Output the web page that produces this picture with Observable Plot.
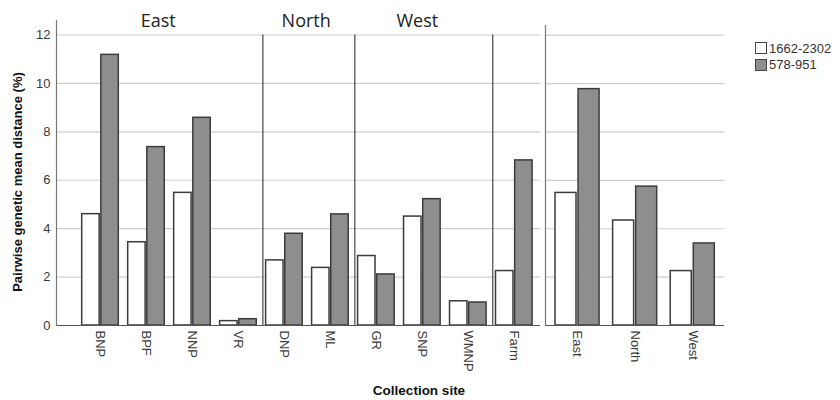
<!DOCTYPE html>
<html>
<head>
<meta charset="utf-8">
<script src="https://cdn.jsdelivr.net/npm/d3@7"></script>
<script src="https://cdn.jsdelivr.net/npm/@observablehq/plot@0.6"></script>
<style>
  html, body { margin: 0; padding: 0; background: #fff; }
  #wrap { position: relative; width: 840px; height: 400px; font-family: "Liberation Sans", Arial, sans-serif; }
  #left, #right { position: absolute; top: 0; }
  #left { left: 0; }
  #right { left: 542px; }
  .ylab { position: absolute; left: 17px; top: 182px; transform: translate(-50%, -50%) rotate(-90deg); white-space: nowrap; font-weight: bold; font-size: 13px; color: #111; }
  .xlab { position: absolute; left: 419px; top: 383px; transform: translateX(-50%); white-space: nowrap; font-weight: bold; font-size: 13.5px; color: #111; }
  .legend { position: absolute; left: 755px; top: 40px; font-size: 13px; color: #333; }
  .legend .row { display: flex; align-items: center; height: 16.5px; }
  .legend .sw { width: 12px; height: 12px; box-sizing: border-box; border: 1.5px solid #444; margin-right: 2px; }
</style>
</head>
<body>
<div id="wrap">
  <div id="left"></div>
  <div id="right"></div>
</div>
<script>
// ---- data ----
const series = ["1662-2302", "578-951"];
const seriesFill = ["#ffffff", "#8e8e8e"];
const sites = ["BNP", "BPF", "NNP", "VR", "DNP", "ML", "GR", "SNP", "WMNP", "Farm"];
const sites1662 = [4.60, 3.44, 5.48, 0.18, 2.69, 2.38, 2.87, 4.50, 1.00, 2.25];
const sites578 = [11.18, 7.37, 8.58, 0.26, 3.79, 4.59, 2.11, 5.22, 0.95, 6.82];
const regions = ["East", "North", "West"];
const regions1662 = [5.48, 4.34, 2.25];
const regions578 = [9.77, 5.74, 3.39];
const yTicks = [0, 2, 4, 6, 8, 10, 12];
const groupLabels = ["East", "North", "West"];
const groupAnchors = ["BPF", "ML", "SNP"];
const groupShift = [11.7, -24.2, -5];
const dividerSites = ["DNP", "GR", "Farm"];
const yTitle = "Pairwise genetic mean distance (%)";
const xTitle = "Collection site";

const siteData = sites.map((s, i) => ({site: s, a: sites1662[i], b: sites578[i]}));
const regionData = regions.map((s, i) => ({site: s, a: regions1662[i], b: regions578[i]}));

const baseStyle = {fontFamily: "Liberation Sans, Arial, sans-serif", fontSize: "13px", color: "#3a3a3a", background: "transparent", overflow: "visible"};
const barStroke = "#3c3c3c";

const groupMarks = groupLabels.map((g, i) =>
  Plot.text([g], {x: () => groupAnchors[i], text: d => d, dx: groupShift[i], frameAnchor: "top", lineAnchor: "bottom", dy: 6,
    fontSize: 18, fontFamily: "Open Sans, Noto Sans, sans-serif", fill: "#222"}));

const left = Plot.plot({
  width: 545, height: 370,
  marginLeft: 56, marginRight: 5, marginTop: 20, marginBottom: 45,
  style: baseStyle,
  x: {domain: sites, round: false, paddingInner: 0.204, paddingOuter: 0, insetLeft: 25.7, insetRight: 7.9,
      tickRotate: 90, tickSize: 0, tickPadding: 5, label: null},
  y: {domain: [0, 12.6], ticks: yTicks, tickSize: 0, tickPadding: 6, label: null},
  marks: [
    Plot.ruleY(yTicks.slice(1), {stroke: "#cfcfcf", strokeWidth: 1.2}),
    Plot.ruleX(dividerSites, {x: d => d, y1: 0, y2: 12, dx: -21.5, stroke: "#222", strokeWidth: 1}),
    Plot.barY(siteData, {x: "site", y: "a", fill: seriesFill[0], stroke: barStroke, strokeWidth: 1.5, insetRight: 19.15}),
    Plot.barY(siteData, {x: "site", y: "b", fill: seriesFill[1], stroke: barStroke, strokeWidth: 1.5, insetLeft: 19.15}),
    Plot.ruleY([0], {stroke: "#555", strokeWidth: 1.2}),
    Plot.frame({anchor: "left", stroke: "#777", strokeWidth: 1.2}),
    ...groupMarks
  ]
});
document.getElementById("left").appendChild(left);

const right = Plot.plot({
  width: 185, height: 370,
  marginLeft: 3, marginRight: 3, marginTop: 25, marginBottom: 45,
  style: baseStyle,
  x: {domain: regions, round: false, paddingInner: 0.235, paddingOuter: 0, insetLeft: 10, insetRight: 9.7,
      tickRotate: 90, tickSize: 0, tickPadding: 5, label: null},
  y: {domain: [0, 12.4], axis: null},
  marks: [
    Plot.ruleY(yTicks.slice(1), {stroke: "#cfcfcf", strokeWidth: 1.2}),
    Plot.barY(regionData, {x: "site", y: "a", fill: seriesFill[0], stroke: barStroke, strokeWidth: 1.5, insetRight: 23.05}),
    Plot.barY(regionData, {x: "site", y: "b", fill: seriesFill[1], stroke: barStroke, strokeWidth: 1.5, insetLeft: 23.05}),
    Plot.ruleY([0], {stroke: "#555", strokeWidth: 1.2}),
    Plot.frame({anchor: "left", stroke: "#777", strokeWidth: 1.2})
  ]
});
document.getElementById("right").appendChild(right);

// titles and legend
const wrap = document.getElementById("wrap");
const yl = document.createElement("div"); yl.className = "ylab"; yl.textContent = yTitle; wrap.appendChild(yl);
const xl = document.createElement("div"); xl.className = "xlab"; xl.textContent = xTitle; wrap.appendChild(xl);
const lg = document.createElement("div"); lg.className = "legend";
series.forEach((s, i) => {
  const row = document.createElement("div"); row.className = "row";
  const sw = document.createElement("div"); sw.className = "sw"; sw.style.background = seriesFill[i];
  const tx = document.createElement("span"); tx.textContent = s;
  row.appendChild(sw); row.appendChild(tx); lg.appendChild(row);
});
wrap.appendChild(lg);
</script>
</body>
</html>
